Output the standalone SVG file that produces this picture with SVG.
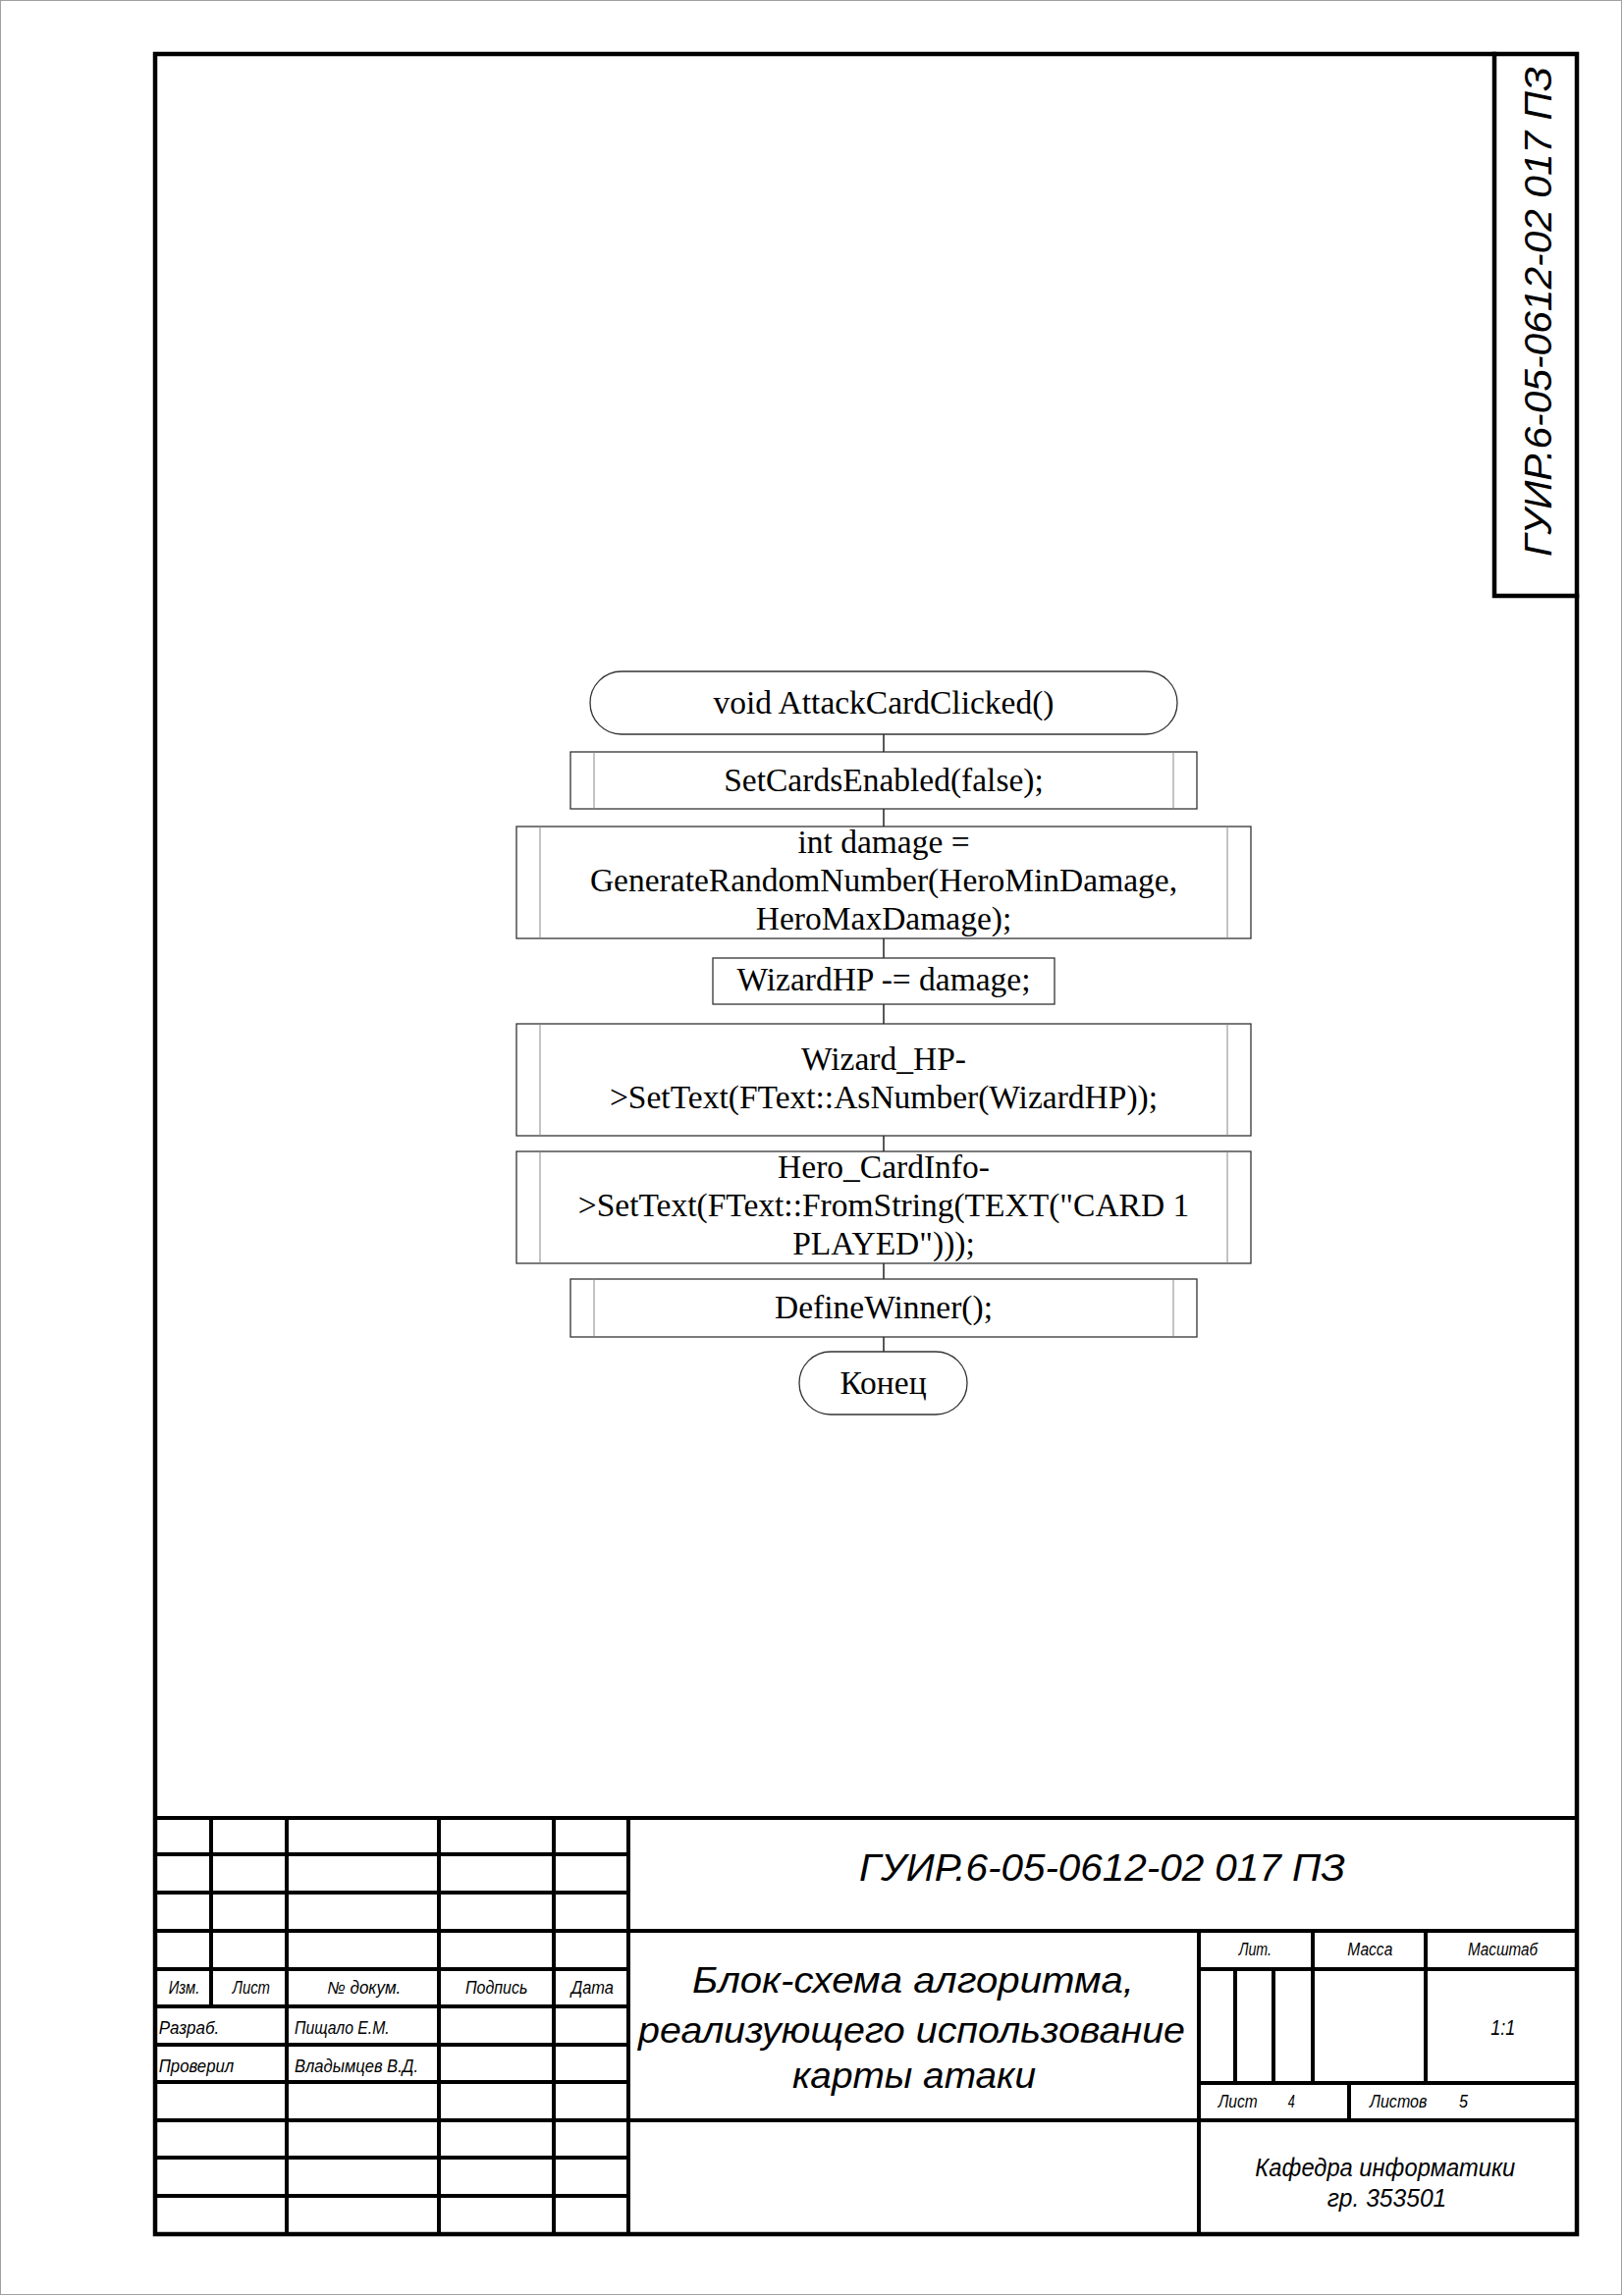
<svg xmlns="http://www.w3.org/2000/svg" width="1654" height="2339" viewBox="0 0 1654 2339">
<style>
.pg{fill:#fff;stroke:#a0a0a0;stroke-width:1}
.fr{fill:none;stroke:#000;stroke-width:4.5;stroke-linecap:square}
.tl{fill:none;stroke:#000;stroke-width:4}
.bx{fill:#fff;stroke:#333;stroke-width:1.3}
.in{fill:none;stroke:#888;stroke-width:1}
.cn{fill:none;stroke:#222;stroke-width:1.5}
.ft{font-family:"Liberation Serif","Times New Roman",serif;font-size:33.5px;fill:#000;text-anchor:middle}
.g{font-family:"Liberation Sans Narrow","Liberation Sans","DejaVu Sans",sans-serif;font-style:italic;fill:#000}
.s17{font-size:17.5px}
.s18{font-size:18px}
.s22{font-size:22px}
.s25{font-size:25.5px}
.s37{font-size:37.5px}
.s39{font-size:39px}
</style>

<rect class="pg" x="0.5" y="0.5" width="1651" height="2337"/>

<g id="frame">
<rect class="fr" x="158" y="55" width="1448" height="2221"/>
<path class="fr" d="M1522,55 V607 H1606"/>
<text class="g s39" transform="translate(1580,317.5) rotate(-90)" x="-249.5" y="0" textLength="499" lengthAdjust="spacingAndGlyphs">ГУИР.6-05-0612-02 017 ПЗ</text>
</g>

<g id="title-block">
<path class="tl" d="M158,1852 H1606 M158,1889 H640 M158,1928 H640 M158,1967 H1606 M158,2006 H640 M1221,2006 H1606 M158,2044 H640 M158,2083 H640 M1221,2122 H1606 M158,2121 H640 M158,2160 H1606 M158,2198 H640 M158,2237 H640"/>
<path class="tl" d="M215,1852 V2044 M292,1852 V2276 M447,1852 V2276 M564,1852 V2276 M640,1852 V2276 M1221,1967 V2276 M1258,2006 V2122 M1297,2006 V2122 M1337,1967 V2122 M1452,1967 V2122 M1374,2122 V2160"/>
<text class="g s17" x="171.7" y="2031" textLength="31.6" lengthAdjust="spacingAndGlyphs">Изм.</text>
<text class="g s17" x="236.7" y="2031" textLength="38.3" lengthAdjust="spacingAndGlyphs">Лист</text>
<text class="g s17" x="333.3" y="2031" textLength="75" lengthAdjust="spacingAndGlyphs">№ докум.</text>
<text class="g s17" x="474" y="2031" textLength="63.3" lengthAdjust="spacingAndGlyphs">Подпись</text>
<text class="g s17" x="581.7" y="2031" textLength="43.3" lengthAdjust="spacingAndGlyphs">Дата</text>
<text class="g s17" x="161.7" y="2072" textLength="61.6" lengthAdjust="spacingAndGlyphs">Разраб.</text>
<text class="g s17" x="300" y="2072" textLength="96.7" lengthAdjust="spacingAndGlyphs">Пищало Е.М.</text>
<text class="g s17" x="161.7" y="2111" textLength="76.6" lengthAdjust="spacingAndGlyphs">Проверил</text>
<text class="g s17" x="300" y="2111" textLength="126" lengthAdjust="spacingAndGlyphs">Владымцев В.Д.</text>
<text class="g s39" x="875" y="1916" textLength="495" lengthAdjust="spacingAndGlyphs">ГУИР.6-05-0612-02 017 ПЗ</text>
<text class="g s37" x="705" y="2030" textLength="450" lengthAdjust="spacingAndGlyphs">Блок-схема алгоритма,</text>
<text class="g s37" x="650" y="2081" textLength="557" lengthAdjust="spacingAndGlyphs">реализующего использование</text>
<text class="g s37" x="807" y="2127" textLength="248" lengthAdjust="spacingAndGlyphs">карты атаки</text>
<text class="g s17" x="1261.7" y="1991.7" textLength="33.3" lengthAdjust="spacingAndGlyphs">Лит.</text>
<text class="g s17" x="1372.3" y="1991.7" textLength="46" lengthAdjust="spacingAndGlyphs">Масса</text>
<text class="g s17" x="1495" y="1991.7" textLength="71" lengthAdjust="spacingAndGlyphs">Масштаб</text>
<text class="g s22" x="1518.3" y="2072.7" textLength="25" lengthAdjust="spacingAndGlyphs">1:1</text>
<text class="g s18" x="1240.7" y="2146.7" textLength="40" lengthAdjust="spacingAndGlyphs">Лист</text>
<text class="g s18" x="1311.7" y="2146.7" textLength="7" lengthAdjust="spacingAndGlyphs">4</text>
<text class="g s18" x="1395" y="2146.7" textLength="58.3" lengthAdjust="spacingAndGlyphs">Листов</text>
<text class="g s18" x="1486" y="2146.7" textLength="9" lengthAdjust="spacingAndGlyphs">5</text>
<text class="g s25" x="1278.3" y="2216.7" textLength="265" lengthAdjust="spacingAndGlyphs">Кафедра информатики</text>
<text class="g s25" x="1351.7" y="2248.3" textLength="121.6" lengthAdjust="spacingAndGlyphs">гр. 353501</text>
</g>

<g id="connectors">
<path class="cn" d="M900,748 V766 M900,824 V842 M900,956 V976 M900,1023 V1043 M900,1157 V1173 M900,1287 V1303 M900,1362 V1377"/>
</g>

<g id="start">
<rect class="bx" x="601" y="684" width="598" height="64" rx="32" ry="32"/>
<text class="ft" x="900" y="727">void AttackCardClicked()</text>
</g>

<g id="set-cards">
<rect class="bx" x="581" y="766" width="638" height="58"/>
<path class="in" d="M605,766 V824 M1195,766 V824"/>
<text class="ft" x="900" y="805.5">SetCardsEnabled(false);</text>
</g>

<g id="damage">
<rect class="bx" x="526" y="842" width="748" height="114"/>
<path class="in" d="M550,842 V956 M1250,842 V956"/>
<text class="ft" x="900" y="869">int damage =</text>
<text class="ft" x="900" y="908">GenerateRandomNumber(HeroMinDamage,</text>
<text class="ft" x="900" y="947">HeroMaxDamage);</text>
</g>

<g id="wizard-hp">
<rect class="bx" x="726" y="976" width="348" height="47"/>
<text class="ft" x="900" y="1008.5">WizardHP -= damage;</text>
</g>

<g id="set-wizard-hp">
<rect class="bx" x="526" y="1043" width="748" height="114"/>
<path class="in" d="M550,1043 V1157 M1250,1043 V1157"/>
<text class="ft" x="900" y="1090">Wizard_HP-</text>
<text class="ft" x="900" y="1129">&gt;SetText(FText::AsNumber(WizardHP));</text>
</g>

<g id="card-info">
<rect class="bx" x="526" y="1173" width="748" height="114"/>
<path class="in" d="M550,1173 V1287 M1250,1173 V1287"/>
<text class="ft" x="900" y="1200">Hero_CardInfo-</text>
<text class="ft" x="900" y="1239">&gt;SetText(FText::FromString(TEXT(&quot;CARD 1</text>
<text class="ft" x="900" y="1278">PLAYED&quot;)));</text>
</g>

<g id="define-winner">
<rect class="bx" x="581" y="1303" width="638" height="59"/>
<path class="in" d="M605,1303 V1362 M1195,1303 V1362"/>
<text class="ft" x="900" y="1343">DefineWinner();</text>
</g>

<g id="end">
<rect class="bx" x="814" y="1377" width="171" height="64" rx="32" ry="32"/>
<text class="ft" x="899.5" y="1420">Конец</text>
</g>
</svg>
